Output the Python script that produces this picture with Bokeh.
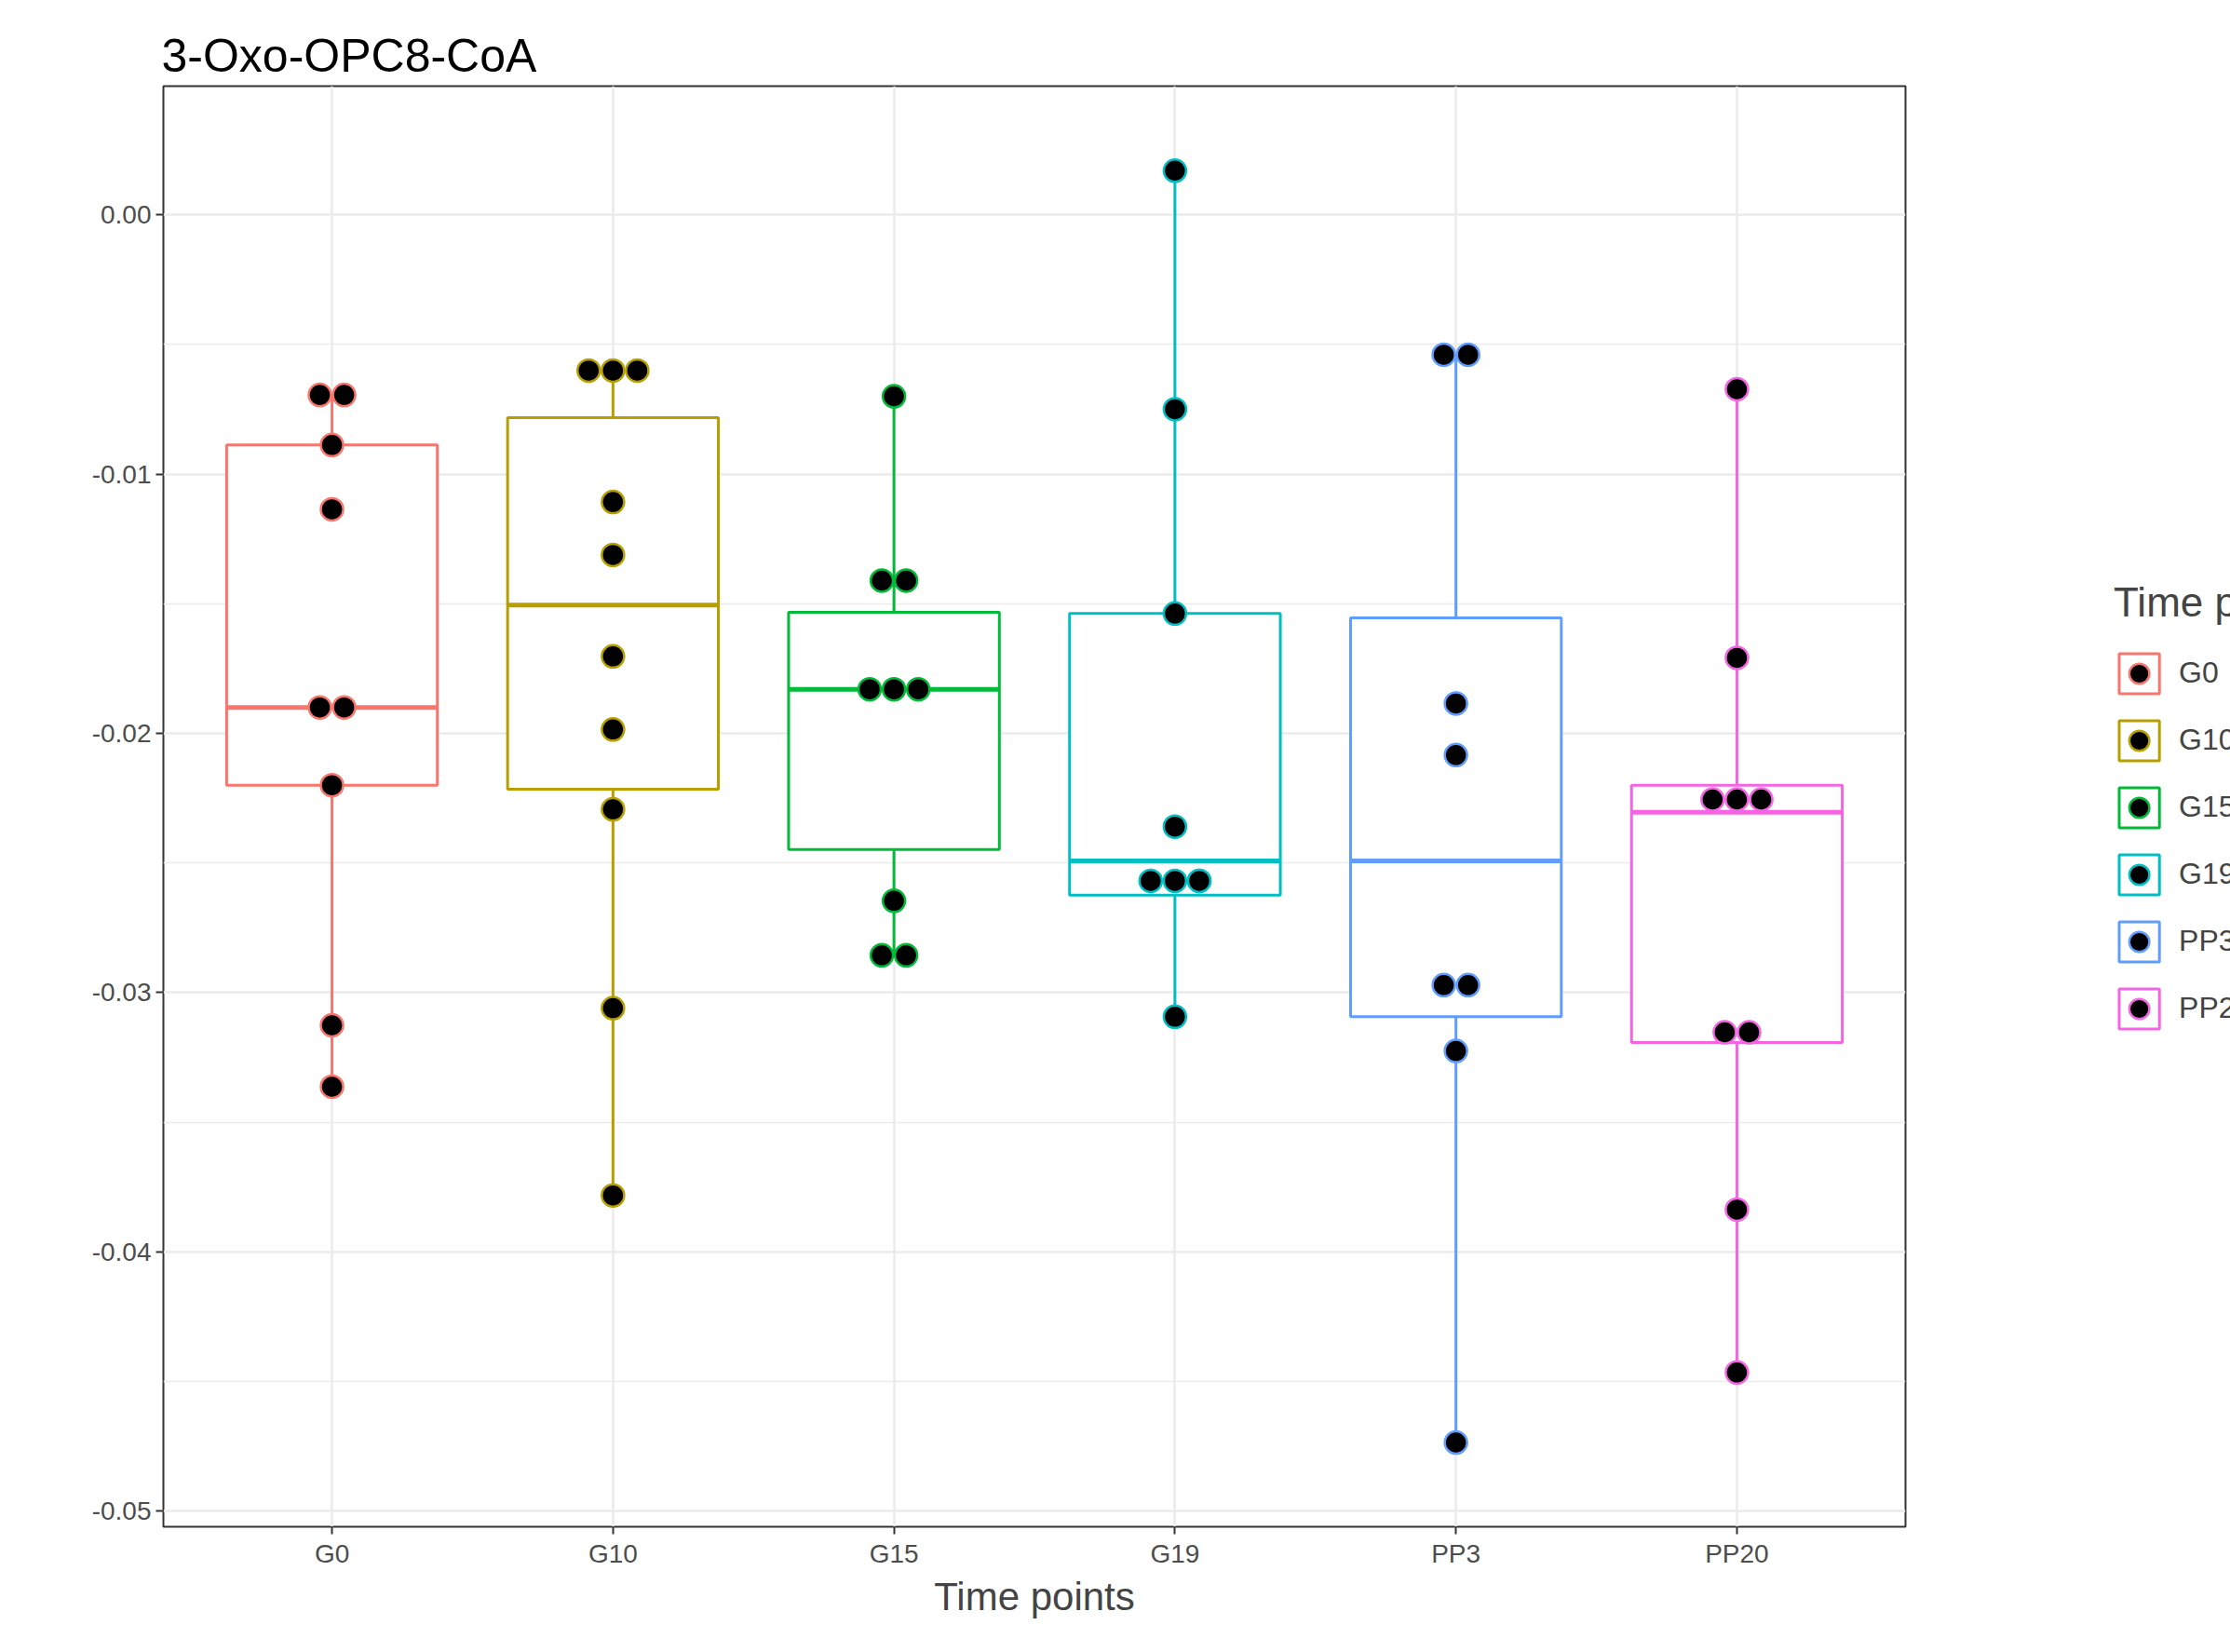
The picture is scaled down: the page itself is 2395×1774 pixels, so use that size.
from bokeh.embed import file_html
from bokeh.resources import INLINE
from bokeh.models import (ColumnDataSource, FixedTicker, Legend, LegendItem,
                          Range1d)
from bokeh.plotting import figure

groups = ["G0", "G10", "G15", "G19", "PP3", "PP20"]
colors = ["#F8766D", "#B79F00", "#00BA38", "#00BFC4", "#619CFF", "#F564E3"]

points = {
    "G0": [-0.00695, -0.00695, -0.00888, -0.01136, -0.0190, -0.0190,
           -0.0220, -0.03126, -0.03363],
    "G10": [-0.00601, -0.00601, -0.00601, -0.01108, -0.01312, -0.01703,
            -0.01985, -0.02293, -0.03060, -0.03782],
    "G15": [-0.0070, -0.01411, -0.01411, -0.0183, -0.0183, -0.0183,
            -0.02646, -0.02856, -0.02856],
    "G19": [0.0017, -0.0075, -0.01538, -0.0236, -0.02569, -0.02569,
            -0.02569, -0.02569, -0.03093],
    "PP3": [-0.0054, -0.0054, -0.01885, -0.02084, -0.02971, -0.02971,
            -0.03225, -0.04735],
    "PP20": [-0.00673, -0.01709, -0.02255, -0.02255, -0.02255, -0.03153,
             -0.03153, -0.03837, -0.04465],
}

# box stats: lower whisker, q1, median, q3, upper whisker
whisk_lo = [-0.03363, -0.03782, -0.02856, -0.03093, -0.04735, -0.04465]
q1 = [-0.0220, -0.02216, -0.02448, -0.02624, -0.03093, -0.03192]
median = [-0.0190, -0.01505, -0.0183, -0.02492, -0.02492, -0.02304]
q3 = [-0.00888, -0.00783, -0.01533, -0.01538, -0.01555, -0.0220]
whisk_hi = [-0.00695, -0.00601, -0.0070, 0.0017, -0.0054, -0.00673]

yticks = [0.0, -0.01, -0.02, -0.03, -0.04, -0.05]

p = figure(frame_width=1871, frame_height=1547, output_backend="svg",
           toolbar_location=None,
           x_range=Range1d(0.4, 6.6), y_range=Range1d(-0.0506, 0.00496),
           min_border_left=175, min_border_top=92, min_border_bottom=121,
           min_border_right=10)

p.title.text = "3-Oxo-OPC8-CoA"
p.title.text_font = "Liberation Sans"
p.title.text_font_size = "50px"
p.title.text_font_style = "normal"
p.title.text_color = "black"
p.title.offset = -2

p.outline_line_color = "#333333"
p.outline_line_width = 2
p.background_fill_color = "white"

p.xaxis.ticker = FixedTicker(ticks=list(range(1, 7)))
p.xaxis.major_label_overrides = {i + 1: g for i, g in enumerate(groups)}
p.yaxis.ticker = FixedTicker(ticks=yticks,
                             minor_ticks=[-0.005, -0.015, -0.025, -0.035, -0.045])
p.yaxis.major_label_overrides = {v: f"{v:.2f}" for v in yticks}
p.xaxis.axis_label = "Time points"
p.xaxis.axis_label_text_font = "Liberation Sans"
p.xaxis.axis_label_text_font_size = "42px"
p.xaxis.axis_label_text_font_style = "normal"
p.xaxis.axis_label_standoff = 4
for ax in (p.xaxis, p.yaxis):
    ax.axis_line_color = None
    ax.major_tick_line_color = "#333333"
    ax.major_tick_line_width = 2
    ax.major_tick_out = 8
    ax.major_tick_in = 0
    ax.minor_tick_line_color = None
    ax.major_label_text_font = "Liberation Sans"
    ax.major_label_text_font_size = "28px"
    ax.major_label_text_color = "#4D4D4D"

p.xgrid.grid_line_color = "#EBEBEB"
p.xgrid.grid_line_width = 2.5
p.ygrid.grid_line_color = "#EBEBEB"
p.ygrid.grid_line_width = 2.5
p.ygrid.minor_grid_line_color = "#EBEBEB"
p.ygrid.minor_grid_line_width = 1.3

items = []
step = 0.0865
for i, g in enumerate(groups):
    c = colors[i]
    x = i + 1
    box = p.vbar(x=[x], bottom=[q1[i]], top=[q3[i]], width=0.75,
                 fill_color="white", line_color=c, line_width=3)
    p.segment(x0=[x, x], x1=[x, x], y0=[whisk_lo[i], q3[i]],
              y1=[q1[i], whisk_hi[i]], line_color=c, line_width=3)
    p.segment(x0=[x - 0.375], x1=[x + 0.375], y0=[median[i]], y1=[median[i]],
              line_color=c, line_width=5)

    # spread equal values side by side like a dot plot
    vals = points[g]
    xs, ys = [], []
    for v in sorted(set(vals), reverse=True):
        n = vals.count(v)
        m = min(n, 3)
        for k in range(n):
            kk = min(k, m - 1)
            xs.append(x + (kk - (m - 1) / 2) * step)
            ys.append(v)
    src = ColumnDataSource(dict(x=xs, y=ys))
    dots = p.scatter("x", "y", source=src, size=24, fill_color="black",
                     line_color=c, line_width=2.5)
    items.append(LegendItem(label=g, renderers=[box, dots]))

legend = Legend(items=items, title="Time points", location="center")
legend.title_text_font = "Liberation Sans"
legend.title_text_font_size = "44px"
legend.title_text_font_style = "normal"
legend.title_standoff = 24
legend.label_text_font = "Liberation Sans"
legend.label_text_font_size = "32px"
legend.glyph_width = 54
legend.glyph_height = 54
legend.spacing = 18
legend.label_standoff = 16
legend.border_line_color = None
legend.background_fill_alpha = 0
legend.margin = 40
legend.padding = 12
p.add_layout(legend, "right")

open("out.html", "w").write(file_html(p, INLINE))
